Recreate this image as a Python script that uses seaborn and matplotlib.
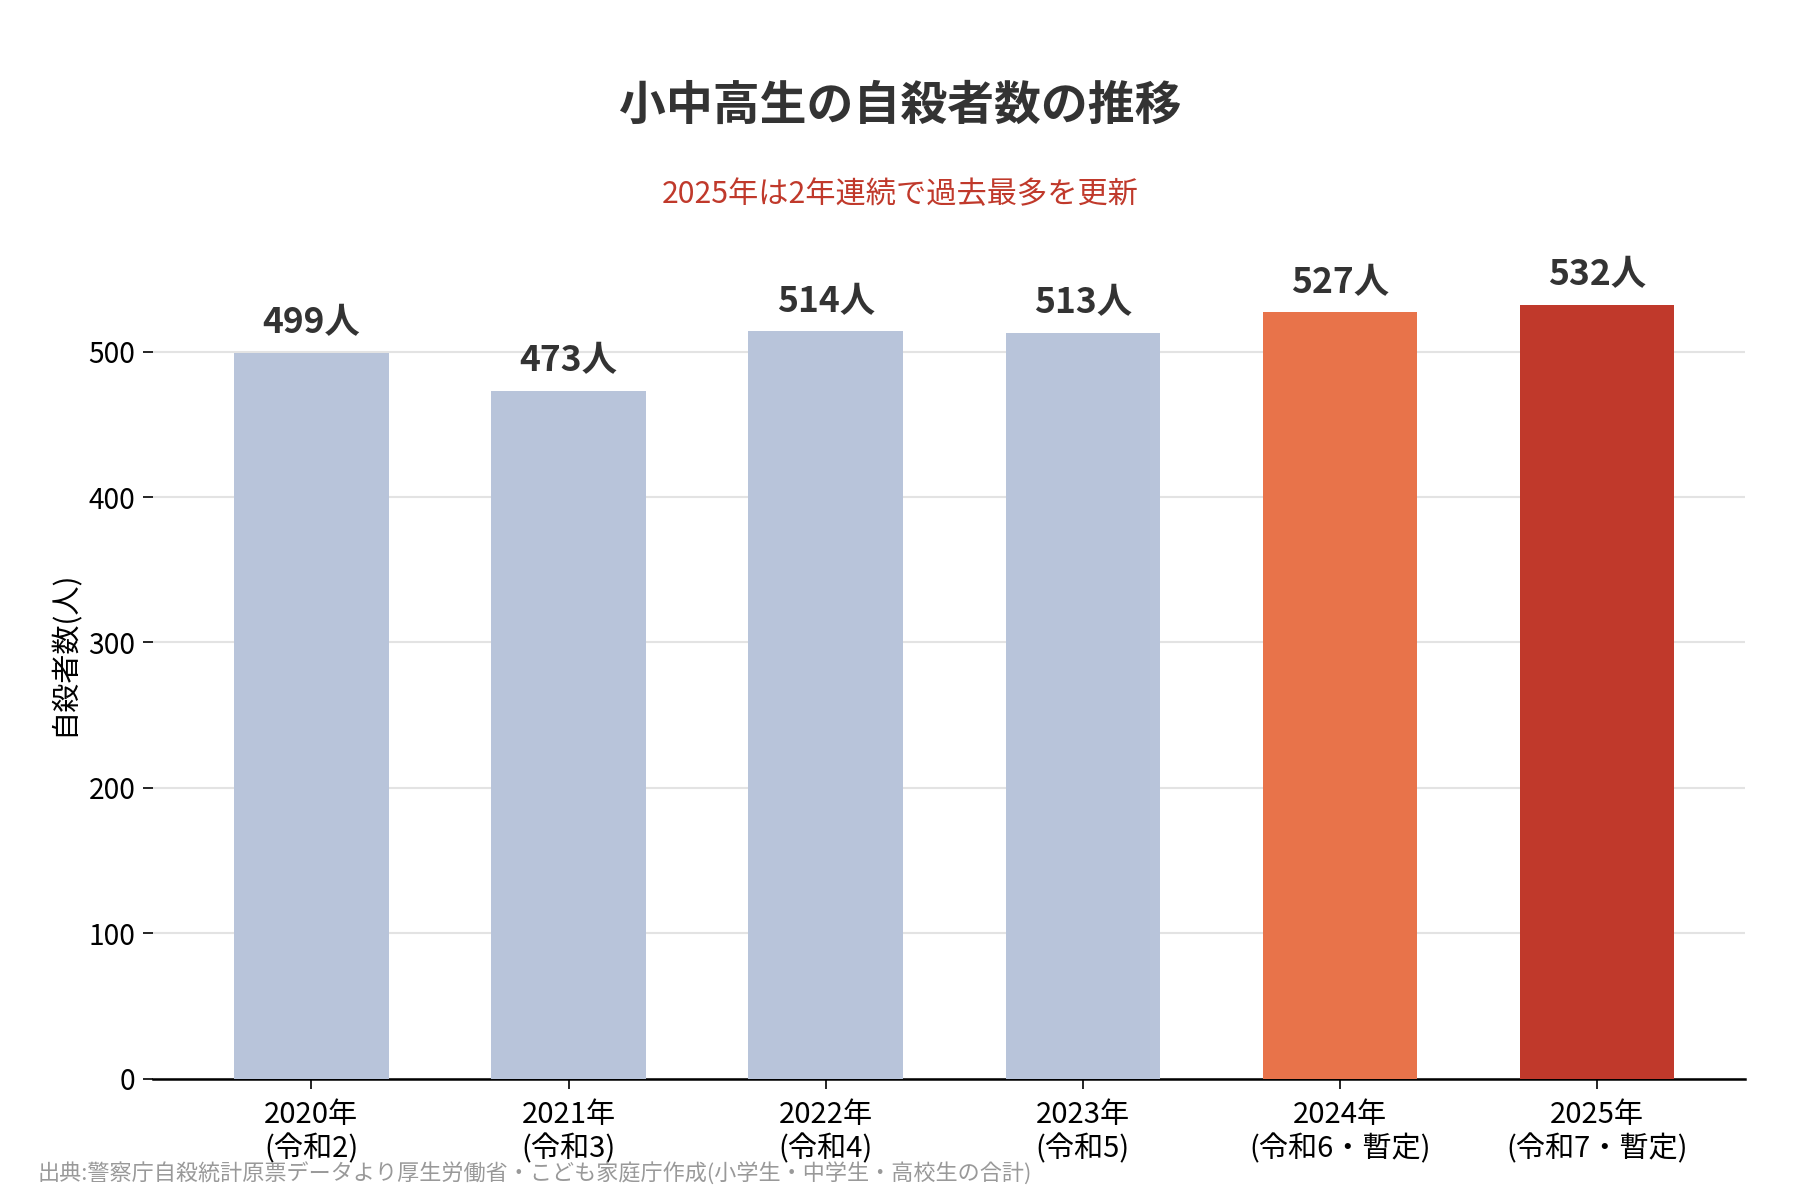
import pandas as pd
import matplotlib.pyplot as plt
import seaborn as sns

# データ
years = ["2020年", "2021年", "2022年", "2023年", "2024年", "2025年"]
eras = ["(令和2)", "(令和3)", "(令和4)", "(令和5)", "(令和6・暫定)", "(令和7・暫定)"]
suicides = [499, 473, 514, 513, 527, 532]

bar_colors = ["#b8c4da", "#b8c4da", "#b8c4da", "#b8c4da", "#e8734a", "#c0392b"]

sns.set_theme(style="white")
plt.rcParams['font.family'] = ['Noto Sans CJK JP', 'DejaVu Sans']

df = pd.DataFrame({
    'label': [f"{y}\n{e}" for y, e in zip(years, eras)],
    'count': suicides,
})

fig = plt.figure(figsize=(12, 8), dpi=150)
ax = fig.add_axes([0.085, 0.101, 0.8845, 0.709])

sns.barplot(data=df, x='label', y='count', hue='label', palette=bar_colors,
            width=0.6, legend=False, saturation=1, linewidth=0, ax=ax, zorder=3)

ax.set_xlim(-0.616, 5.576)
ax.set_ylim(0, 585)
ax.set_yticks([0, 100, 200, 300, 400, 500])
ax.yaxis.grid(True, color="#e3e3e3", linewidth=1, zorder=0)
ax.set_axisbelow(True)

for s in ['top', 'right', 'left']:
    ax.spines[s].set_visible(False)
ax.spines['bottom'].set_color('black')
ax.spines['bottom'].set_linewidth(1.2)

ax.tick_params(axis='x', length=5, width=0.8, color='black', labelcolor='black',
               labelsize=14, pad=5, bottom=True)
ax.tick_params(axis='y', length=5, width=0.8, color='black', labelcolor='black',
               labelsize=13.5, left=True)
ax.set_xlabel("")
ax.set_ylabel("自殺者数(人)", fontsize=14, labelpad=4, color='black')

# 値ラベル
for i, v in enumerate(suicides):
    ax.annotate(f"{v}人", xy=(i, v), xytext=(0, 6), textcoords='offset points',
                ha='center', va='bottom', fontsize=17, fontweight='bold', color='#333333')

fig.text(0.5, 0.912, "小中高生の自殺者数の推移", ha='center', va='center',
         fontsize=22.5, fontweight='bold', color='#333333')
fig.text(0.5, 0.838, "2025年は2年連続で過去最多を更新", ha='center', va='center',
         fontsize=14.5, color='#c0392b')
fig.text(0.021, 0.012, "出典:警察庁自殺統計原票データより厚生労働省・こども家庭庁作成(小学生・中学生・高校生の合計)",
         ha='left', va='bottom', fontsize=10.6, color='#999999')

fig.savefig('out.png', dpi=150)
plt.close()
